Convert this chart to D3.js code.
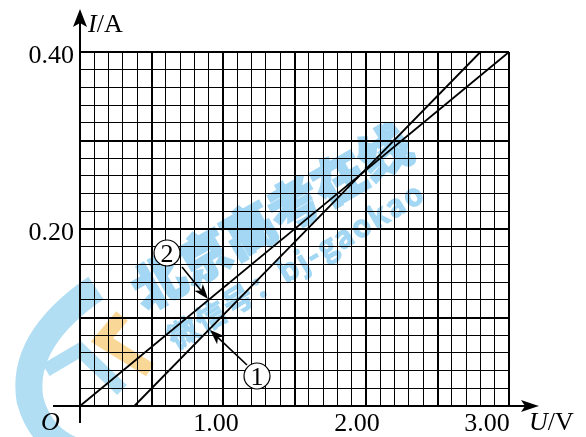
<!DOCTYPE html>
<html><head><meta charset="utf-8">
<script src="https://cdn.jsdelivr.net/npm/d3@7"></script>
<style>body{margin:0;background:#fff}svg{display:block}text{font-family:"Liberation Serif","Times New Roman",serif}</style>
</head><body>
<script>
// ---- data ----
const uTickValues = [1.00, 2.00, 3.00];
const uTickLabels = ["1.00", "2.00", "3.00"];
const iTickValues = [0.20, 0.40];
const iTickLabels = ["0.20", "0.40"];
const line1U = [0.38, 2.80];   // curve ①
const line1I = [0.00, 0.40];
const line2U = [0.00, 3.00];   // curve ②
const line2I = [0.00, 0.40];
const uGrid = d3.range(0, 31).map(k => k / 10);      // 0.1 V
const iGrid = d3.range(0, 21).map(k => k / 50);      // 0.02 A

const W = 586, H = 437;
const svg = d3.select("body").append("svg").attr("width", W).attr("height", H);
const x = d3.scaleLinear().domain([0, 3]).range([80, 509]);
const y = d3.scaleLinear().domain([0, 0.4]).range([406, 52]);

// ---- watermark (decoration) ----
const wm = svg.append("g").attr("opacity", 0.8);
wm.append("path").attr("d", "M96,288 Q20,340 30,400 Q40,437 72,450")
  .attr("fill", "none").attr("stroke", "#9fd6f2").attr("stroke-width", 27);
wm.append("path").attr("d", "M46,370 L80,350 L122,390")
  .attr("fill", "none").attr("stroke", "#9fd6f2").attr("stroke-width", 14);
wm.append("path").attr("d", "M122,316 L102,340 L150,370")
  .attr("fill", "none").attr("stroke", "#f8cf7e").attr("stroke-width", 15);
wm.append("text").attr("transform", "translate(146,312) rotate(-30)")
  .style("font-family", "'Noto Sans CJK SC'").attr("font-weight", 900)
  .attr("font-size", 52).attr("fill", "#8ccdf0").attr("stroke", "#8ccdf0").attr("stroke-width", 2.5)
  .text("北京高考在线");
wm.append("text").attr("transform", "translate(176,350) rotate(-31)")
  .style("font-family", "'Noto Sans CJK SC'").attr("font-weight", 700)
  .attr("font-size", 30).attr("fill", "#8ccdf0").attr("stroke", "#8ccdf0").attr("stroke-width", 1.2)
  .attr("letter-spacing", 2)
  .text("微信号：bj-gaokao");

// ---- grid ----
const g = svg.append("g").attr("shape-rendering", "crispEdges");
g.selectAll(".vg").data(uGrid).join("line")
  .attr("x1", d => x(d)).attr("x2", d => x(d)).attr("y1", y(0)).attr("y2", y(0.4))
  .attr("stroke", "#000")
  .attr("stroke-width", (d, i) => i % 5 === 0 ? 2 : 1);
g.selectAll(".hg").data(iGrid).join("line")
  .attr("y1", d => y(d)).attr("y2", d => y(d)).attr("x1", x(0)).attr("x2", x(3))
  .attr("stroke", "#000")
  .attr("stroke-width", (d, i) => i % 5 === 0 ? 2 : 1);

// ---- axes ----
svg.append("line").attr("x1", 53).attr("x2", 528).attr("y1", y(0)).attr("y2", y(0))
  .attr("stroke", "#000").attr("stroke-width", 2);
svg.append("line").attr("x1", x(0)).attr("x2", x(0)).attr("y1", 423).attr("y2", 20)
  .attr("stroke", "#000").attr("stroke-width", 2);
svg.append("path").attr("d", `M${x(0)},9 L${x(0)+7},27 L${x(0)},23 L${x(0)-7},27 Z`).attr("fill", "#000");
svg.append("path").attr("d", `M539,${y(0)} L521,${y(0)-6} L525,${y(0)} L521,${y(0)+6} Z`).attr("fill", "#000");

// ---- tick labels ----
const uOffsets = [-7, -9, -22];
svg.selectAll(".ul").data(uTickValues).join("text")
  .attr("x", (d, i) => x(d) + uOffsets[i]).attr("y", 431)
  .attr("text-anchor", "middle").attr("font-size", 26).text((d, i) => uTickLabels[i]);
svg.selectAll(".il").data(iTickValues).join("text")
  .attr("x", 74).attr("y", d => y(d) + 11)
  .attr("text-anchor", "end").attr("font-size", 26).text((d, i) => iTickLabels[i]);

const yl = svg.append("text").attr("x", 88).attr("y", 32).attr("font-size", 26);
yl.append("tspan").attr("font-style", "italic").text("I");
yl.append("tspan").text("/A");
const xl = svg.append("text").attr("x", 529).attr("y", 430).attr("font-size", 26);
xl.append("tspan").attr("font-style", "italic").text("U");
xl.append("tspan").text("/V");
svg.append("text").attr("x", 41).attr("y", 430).attr("font-size", 26).attr("font-style", "italic").text("O");

// ---- lines ----
const lineGen = d3.line().x(d => x(d[0])).y(d => y(d[1]));
svg.append("path").attr("d", lineGen(d3.zip(line1U, line1I)))
  .attr("stroke", "#000").attr("stroke-width", 1.8).attr("fill", "none");
svg.append("path").attr("d", lineGen(d3.zip(line2U, line2I)))
  .attr("stroke", "#000").attr("stroke-width", 1.8).attr("fill", "none");

// ---- annotations ----
function arrow(x1, y1, x2, y2) {
  const a = Math.atan2(y2 - y1, x2 - x1), L = 15, w = 5.5;
  const bx = x2 - L * Math.cos(a), by = y2 - L * Math.sin(a);
  const mx = x2 - (L - 4) * Math.cos(a), my = y2 - (L - 4) * Math.sin(a);
  svg.append("line").attr("x1", x1).attr("y1", y1).attr("x2", mx).attr("y2", my)
    .attr("stroke", "#000").attr("stroke-width", 1.6);
  svg.append("path").attr("d",
    `M${x2},${y2} L${bx - w*Math.sin(a)},${by + w*Math.cos(a)} L${mx},${my} L${bx + w*Math.sin(a)},${by - w*Math.cos(a)} Z`)
    .attr("fill", "#000");
}
function circled(cx, cy, t) {
  svg.append("circle").attr("cx", cx).attr("cy", cy).attr("r", 13)
    .attr("fill", "#fff").attr("stroke", "#000").attr("stroke-width", 1.2);
  svg.append("text").attr("x", cx).attr("y", cy + 9).attr("text-anchor", "middle")
    .attr("font-size", 26).text(t);
}
arrow(182, 267, 208, 299);
arrow(247, 365, 210, 330);
circled(167, 253, "2");
circled(257, 376, "1");
</script>
</body></html>
